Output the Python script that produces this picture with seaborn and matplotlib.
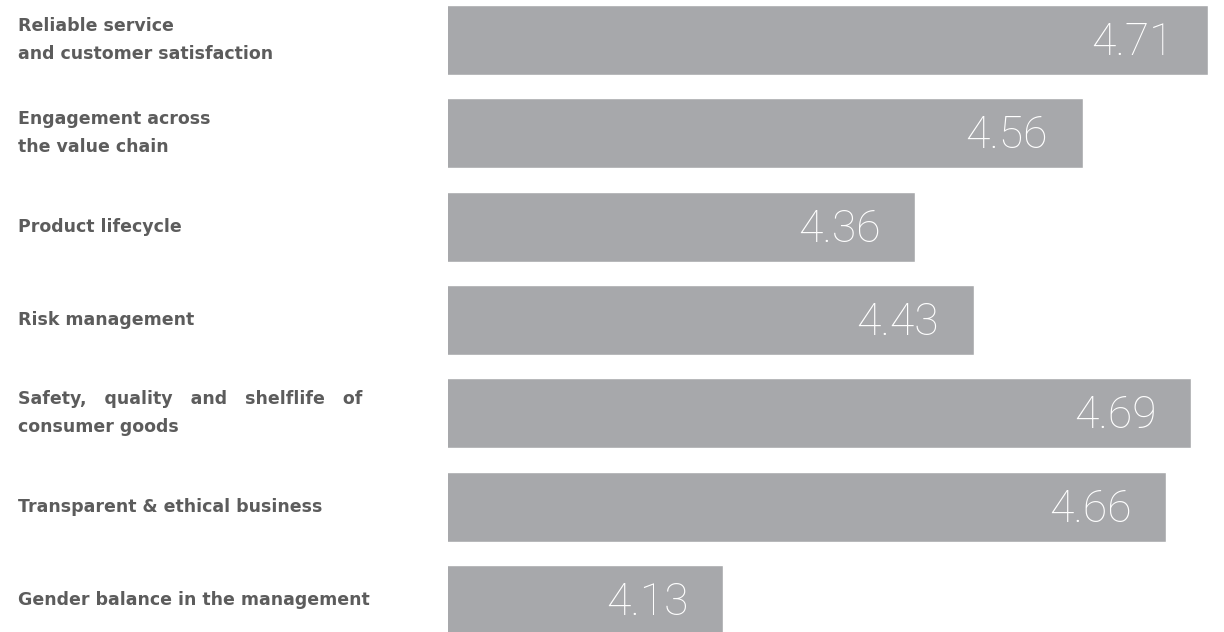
import matplotlib
matplotlib.use("Agg")
import matplotlib.pyplot as plt
import matplotlib.transforms as mtransforms
import seaborn as sns
import pandas as pd

categories = [
    "Reliable service\nand customer satisfaction",
    "Engagement across\nthe value chain",
    "Product lifecycle",
    "Risk management",
    "Safety,   quality   and   shelflife   of\nconsumer goods",
    "Transparent & ethical business",
    "Gender balance in the management",
]
scores = [4.71, 4.56, 4.36, 4.43, 4.69, 4.66, 4.13]

df = pd.DataFrame({"category": categories, "score": scores})

sns.set_theme(style="white")
plt.rcParams["font.family"] = ["DejaVu Sans"]

W, H = 1224, 632
fig = plt.figure(figsize=(W / 100, H / 100), dpi=100)
ax = fig.add_axes([448 / W, 0, 1 - 448 / W, 1])

bar_color = "#a7a8ab"
sns.barplot(data=df, y="category", x="score", orient="h", color=bar_color,
            width=0.75, saturation=1, ax=ax, order=categories)

ax.set_xlim(3.801, 4.729)
ax.set_ylim(6.343, -0.4286)
ax.set_xlabel("")
ax.set_ylabel("")
ax.set_xticks([])
ax.set_yticks([])
for s in ax.spines.values():
    s.set_visible(False)

trans = mtransforms.blended_transform_factory(fig.transFigure, ax.transData)
label_shift = mtransforms.ScaledTranslation(0, -2 / 100, fig.dpi_scale_trans)
for i, (cat, val) in enumerate(zip(categories, scores)):
    ax.text(18 / W, i, cat, transform=trans, ha="left", va="center",
            fontsize=12.5, fontweight="bold", color="#5c5c5c",
            linespacing=1.7, clip_on=False)
    ax.annotate(f"{val:.2f}", xy=(val, i), xytext=(-25, -2),
                textcoords="offset points", ha="right", va="center",
                fontsize=32, color="white", family=["Roboto", "DejaVu Sans"],
                fontweight="light")

fig.savefig("out.png", dpi=100)
